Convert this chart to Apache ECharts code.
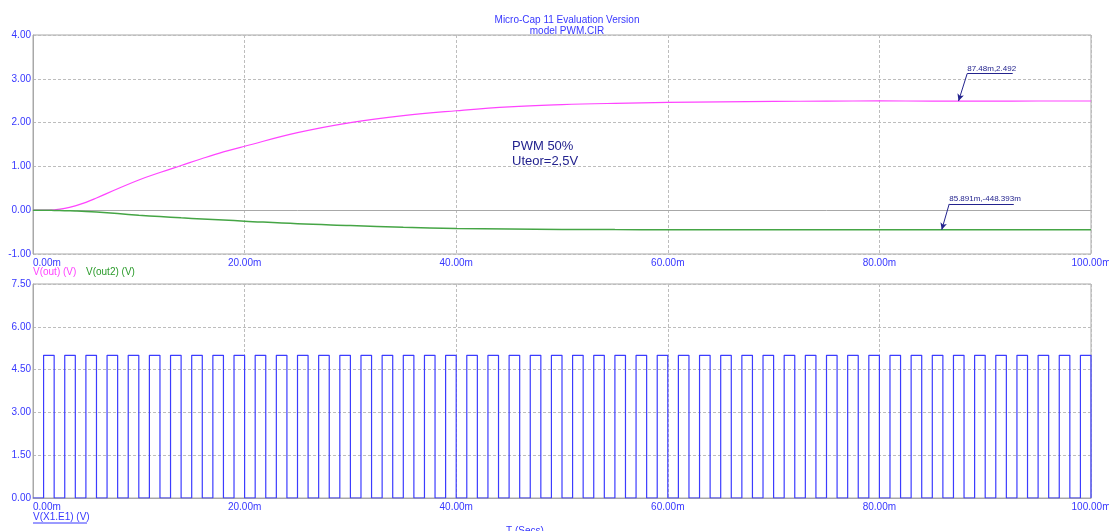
<!DOCTYPE html>
<html>
<head>
<meta charset="utf-8">
<script src="https://cdn.jsdelivr.net/npm/echarts@6/dist/echarts.min.js"></script>
<style>html,body{margin:0;padding:0;background:#fff}#c{width:1109px;height:531px}</style>
</head>
<body>
<div id="c"></div>
<script>
// time axis (ms)
var timeMs = [0, 1, 2, 3, 4, 5, 6, 8, 10, 12, 14, 16, 18, 20, 25, 30, 35, 40, 45, 50, 55, 60, 65, 70, 75, 80, 85, 90, 95, 100];
// V(out) (V)
var vOut = [0, 0, 0.01, 0.04, 0.10, 0.18, 0.28, 0.49, 0.69, 0.86, 1.02, 1.18, 1.33, 1.46, 1.77, 2.00, 2.16, 2.27, 2.36, 2.41, 2.44, 2.46, 2.475, 2.485, 2.49, 2.495, 2.492, 2.492, 2.493, 2.493];
// V(out2) (V)
var vOut2 = [0, 0, -0.004, -0.01, -0.018, -0.028, -0.042, -0.078, -0.115, -0.145, -0.175, -0.20, -0.225, -0.25, -0.31, -0.35, -0.39, -0.415, -0.43, -0.438, -0.443, -0.446, -0.447, -0.448, -0.448, -0.448, -0.448, -0.448, -0.448, -0.448];
// PWM pulse rising edges (ms), width and level
var pulseStarts = [1, 3, 5, 7, 9, 11, 13, 15, 17, 19, 21, 23, 25, 27, 29, 31, 33, 35, 37, 39, 41, 43, 45, 47, 49, 51, 53, 55, 57, 59, 61, 63, 65, 67, 69, 71, 73, 75, 77, 79, 81, 83, 85, 87, 89, 91, 93, 95, 97, 99];
var pulseWidth = 1;
var pulseHigh = 5;
// axis ticks
var xTicks = [0, 20, 40, 60, 80, 100];
var yTopTicks = [-1, 0, 1, 2, 3, 4];
var yBotTicks = [0, 1.5, 3, 4.5, 6, 7.5];
// cursor markers
var marker1 = [87.48, 2.492];
var marker2 = [85.891, -0.448393];

var pwm = [[0, 0]];
pulseStarts.forEach(function (s) {
  pwm.push([s, 0], [s, pulseHigh], [s + pulseWidth, pulseHigh], [s + pulseWidth, 0]);
});
var outData = timeMs.map(function (t, i) { return [t, vOut[i]]; });
var out2Data = timeMs.map(function (t, i) { return [t, vOut2[i]]; });

var FONT = 'Liberation Sans';
var BLUE = '#3737ff';
var NAVY = '#23238e';
var split = { show: true, lineStyle: { color: '#bdbdbd', type: [3, 2], width: 1 } };

function xAxis(gi) {
  return {
    type: 'value', gridIndex: gi, min: xTicks[0], max: xTicks[xTicks.length - 1], interval: xTicks[1] - xTicks[0],
    axisLine: { show: true, lineStyle: { color: '#a8a8a8', width: 1 } },
    axisTick: { show: false }, splitLine: split,
    axisLabel: { color: BLUE, fontSize: 10, fontFamily: FONT, margin: 4, alignMinLabel: 'left',
      formatter: function (v) { return v.toFixed(2) + 'm'; } }
  };
}
function yAxis(gi, ticks) {
  return {
    type: 'value', gridIndex: gi, min: ticks[0], max: ticks[ticks.length - 1], interval: ticks[1] - ticks[0],
    axisLine: { show: true, lineStyle: { color: '#a8a8a8', width: 1 } },
    axisTick: { show: false }, splitLine: split,
    axisLabel: { color: BLUE, fontSize: 10, fontFamily: FONT, margin: 2,
      formatter: function (v) { return v.toFixed(2); } }
  };
}
function callout(pt, anchor, endX, text) {
  return [
    [{ coord: anchor, symbol: 'none', label: { show: false } }, { coord: pt, symbol: 'arrow', symbolSize: [5, 7], label: { show: false } }],
    [{ coord: anchor, symbol: 'none', label: { show: true, formatter: text, position: 'insideStartTop', distance: [0, 1], color: NAVY, fontSize: 8, fontFamily: FONT } },
     { coord: [endX, anchor[1]], symbol: 'none' }]
  ];
}

var chart = echarts.init(document.getElementById('c'), null, { renderer: 'canvas' });
chart.setOption({
  animation: false,
  backgroundColor: '#fff',
  title: [
    { text: 'Micro-Cap 11 Evaluation Version\nmodel PWM.CIR', left: 562, top: 10, textAlign: 'center',
      textStyle: { color: BLUE, fontSize: 10, fontWeight: 'normal', fontFamily: FONT, lineHeight: 11 } },
    { text: 'T (Secs)', left: 520, top: 521, textAlign: 'center',
      textStyle: { color: BLUE, fontSize: 10, fontWeight: 'normal', fontFamily: FONT } }
  ],
  graphic: [
    { type: 'text', left: 33, top: 267, style: { text: 'V(out) (V)', fill: '#ff40ff', font: '10px "Liberation Sans"' } },
    { type: 'text', left: 86, top: 267, style: { text: 'V(out2) (V)', fill: '#2a9a2a', font: '10px "Liberation Sans"' } },
    { type: 'text', left: 33, top: 512, style: { text: 'V(X1.E1) (V)', fill: BLUE, font: '10px "Liberation Sans"' } },
    { type: 'line', shape: { x1: 33, y1: 523, x2: 87, y2: 523 }, style: { stroke: BLUE, lineWidth: 1 } },
    { type: 'text', left: 512, top: 139, style: { text: 'PWM 50%\nUteor=2,5V', fill: NAVY, font: '13px "Liberation Sans"', lineHeight: 15 } }
  ],
  grid: [
    { left: 33, right: 18, top: 35, height: 219, show: true, borderColor: '#a8a8a8', borderWidth: 1, outerBoundsMode: 'none', containLabel: false },
    { left: 33, right: 18, top: 284, height: 214, show: true, borderColor: '#a8a8a8', borderWidth: 1, outerBoundsMode: 'none', containLabel: false }
  ],
  xAxis: [xAxis(0), xAxis(1)],
  yAxis: [yAxis(0, yTopTicks), yAxis(1, yBotTicks)],
  series: [
    { type: 'line', xAxisIndex: 0, yAxisIndex: 0, data: outData, smooth: 0.4, showSymbol: false,
      lineStyle: { color: '#ff44ff', width: 1.2 }, itemStyle: { color: '#ff44ff' },
      markLine: { silent: true, animation: false, lineStyle: { color: NAVY, width: 1, type: 'solid' },
        data: callout(marker1, [88.3, 3.12], 92.6, '87.48m,2.492') } },
    { type: 'line', xAxisIndex: 0, yAxisIndex: 0, data: out2Data, smooth: 0.4, showSymbol: false,
      lineStyle: { color: '#45a545', width: 1.5 }, itemStyle: { color: '#45a545' },
      markLine: { silent: true, animation: false, lineStyle: { color: NAVY, width: 1, type: 'solid' },
        data: callout(marker2, [86.6, 0.144], 92.7, '85.891m,-448.393m') } },
    { type: 'line', xAxisIndex: 1, yAxisIndex: 1, data: pwm, showSymbol: false,
      lineStyle: { color: '#3c3cff', width: 1.2 }, itemStyle: { color: '#3c3cff' } }
  ]
});
</script>
</body>
</html>
